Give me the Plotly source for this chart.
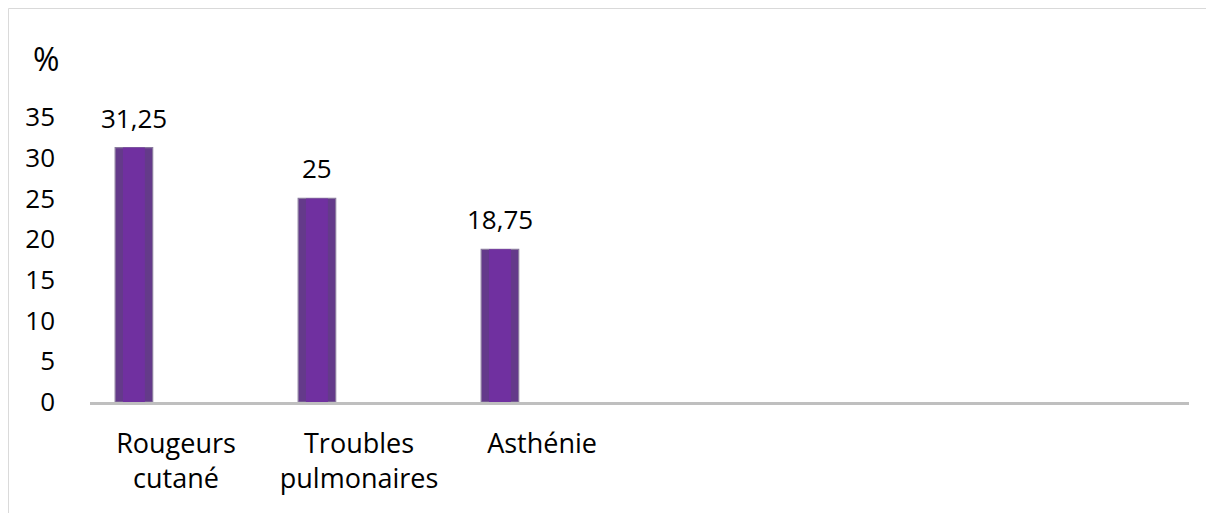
import plotly.graph_objects as go

# data
categories = ["Rougeurs<br>cutané", "Troubles<br>pulmonaires", "Asthénie"]
values = [31.25, 25, 18.75]
y_ticks = [0, 5, 10, 15, 20, 25, 30, 35]

x_pos = list(range(len(categories)))
labels = [f"{v:g}".replace(".", ",") for v in values]

FONT = "'Open Sans', Lato, sans-serif"
bar_shift = -0.23   # bar sits left of its category label (Excel clustered look)
bar_width = 0.205
inner_width = 0.12  # lighter core to mimic the soft-edge fill

fig = go.Figure()

fig.add_trace(go.Bar(
    x=x_pos,
    y=values,
    width=bar_width,
    offset=bar_shift - bar_width / 2,
    marker=dict(color="#643A8A", line=dict(color="#8A7A9E", width=1.2)),
    hoverinfo="skip",
))

fig.add_trace(go.Bar(
    x=x_pos,
    y=values,
    width=inner_width,
    offset=bar_shift - inner_width / 2,
    marker=dict(color="#7030A0", line=dict(width=0)),
    hoverinfo="skip",
))

# value labels above bars
for xi, v, t in zip(x_pos, values, labels):
    fig.add_annotation(
        x=xi + bar_shift, y=v, text=t, showarrow=False,
        yanchor="middle", yshift=30,
        font=dict(family=FONT, size=26, color="#000000"),
    )

# "%" unit label
fig.add_annotation(
    xref="paper", yref="paper", x=-0.04, y=1.205, text="%", showarrow=False,
    xanchor="center", yanchor="middle",
    font=dict(family=FONT, size=32, color="#000000"),
)

# chart frame: only top and left edges are visible in the crop
frame = dict(type="line", xref="paper", yref="paper", line=dict(color="#D9D9D9", width=1))
fig.add_shape(x0=-0.0742, x1=1.03, y0=1.3807, y1=1.3807, **frame)
fig.add_shape(x0=-0.0742, x1=-0.0742, y0=-0.45, y1=1.3807, **frame)

fig.update_layout(
    width=1206, height=505,
    margin=dict(l=82, r=25, t=109, b=111),
    paper_bgcolor="white", plot_bgcolor="white",
    showlegend=False, barmode="overlay",
    font=dict(family=FONT, size=26, color="#000000"),
)

fig.update_xaxes(
    range=[-0.47, 5.535],
    tickvals=x_pos, ticktext=categories,
    showgrid=False, zeroline=False,
    showline=True, linecolor="#BFBFBF", linewidth=2.5,
    ticks="", ticklabelstandoff=16,
    tickfont=dict(family=FONT, size=27, color="#000000"),
)

fig.update_yaxes(
    range=[0, 35],
    tickvals=y_ticks,
    showgrid=False, zeroline=False, showline=False,
    ticks="", ticklabelstandoff=34,
    tickfont=dict(family=FONT, size=26, color="#000000"),
)

fig.write_html("out.html")
